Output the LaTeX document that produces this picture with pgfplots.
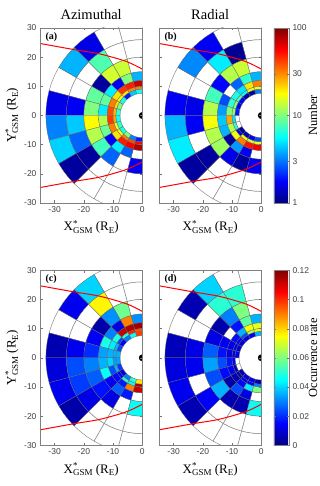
\documentclass[border=0pt]{standalone}
\usepackage{fontspec}
\setmainfont{Liberation Serif}
\newfontfamily\tickfont{Liberation Sans}
\usepackage{pgfplots}
\usepackage{pgfplotstable}
\usepgfplotslibrary{patchplots}
\pgfplotsset{compat=1.18}

% one row per ring (outer to inner), columns are 15 degree sectors, top to bottom
\pgfplotstableread{
rin rout s1 s2 s3 s4 s5 s6 s7 s8 s9 s10 s11 s12
26 33 nan nan 1.6 4 nan 1.6 3.2 4.6 1.15 nan nan nan
20 26 nan nan 8 nan nan 1.7 4.4 2.8 1.15 nan nan nan
15 20 nan 14 14.5 1.15 8.7 10 18 12.6 7.6 2.8 nan 1.7
12 15 4 10 1.7 5.2 8.7 5.2 12.6 9 1.7 5.2 2.8 nan
10 12 72 50 44 20 32 40 44 32 20 50 58 80
9 10 32 30 20 18 21 25 27 16 18 32 40 55
7.6 9 5.8 4.4 2 6.3 10 7 5.8 7 6.3 10 3.2 2
}\tabA
\pgfplotstableread{
rin rout s1 s2 s3 s4 s5 s6 s7 s8 s9 s10 s11 s12
26 33 nan nan 1.7 3.3 nan 1.7 4 5.2 1.15 nan nan nan
20 26 nan 1.1 5.2 nan nan 1.6 1.7 nan 1.15 nan nan nan
15 20 nan 14 12.6 1.8 7.6 12.6 17 12.6 11.5 1.6 1.15 1.7
12 15 4 7 2.8 nan 2.5 3.6 4.4 4 1.15 3.6 1.7 nan
10 12 32 20 5 6.3 7 10 27 12.6 17 32 52 58
9 10 17 16 5.8 8 10 11 5 7 1.6 17 14 16
7.6 9 3.2 1.15 1.15 1.7 1.7 2 nan nan 1.15 1.3 1.6 2.5
}\tabB
\pgfplotstableread{
rin rout s1 s2 s3 s4 s5 s6 s7 s8 s9 s10 s11 s12
26 33 nan nan .040 .013 nan .006 .011 .013 .005 nan nan nan
20 26 nan nan .076 nan nan .013 .024 .022 .012 nan nan nan
15 20 nan .058 .032 .005 .014 .020 .030 .026 .017 .012 nan .046
12 15 .032 .090 .012 .030 .048 .034 .036 .046 .014 .026 .018 nan
10 12 .116 .114 .112 .048 .043 .036 .040 .024 .016 .018 .090 .112
9 10 .096 .102 .050 .024 .036 .036 .034 .036 .014 .050 .046 .114
7.6 9 .098 .046 .030 .014 .024 .036 .034 .022 .012 .030 .050 .078
}\tabC
\pgfplotstableread{
rin rout s1 s2 s3 s4 s5 s6 s7 s8 s9 s10 s11 s12
26 33 nan nan .040 .006 nan .007 .011 .013 .006 nan nan nan
20 26 nan .050 .050 nan nan .012 .013 nan .014 nan nan nan
15 20 nan .060 .030 .005 .012 .026 .034 .024 .036 .006 .006 .046
12 15 .036 .056 .017 nan .014 .017 .024 .016 .005 .024 .012 nan
10 12 .072 .074 .036 .016 .012 .012 .017 .014 .006 .016 .043 .060
9 10 .072 .066 .024 .014 .014 .012 .014 .007 .006 .012 .014 .030
7.6 9 .036 .014 .012 .010 .010 .012 nan nan .006 .012 .012 .006
}\tabD

% turns a table into polygon cells: \cellsdata has the filled ones, \gridcells the empty ones
\def\nanstr{nan}
\newcommand{\buildcells}[2]{%
  \gdef\cellsdata{}\gdef\gridcells{}%
  \foreach \ri in {0,...,6}{%
    \pgfplotstablegetelem{\ri}{rin}\of#1\let\rin\pgfplotsretval
    \pgfplotstablegetelem{\ri}{rout}\of#1\let\rout\pgfplotsretval
    \foreach \si in {1,...,12}{%
      \pgfplotstablegetelem{\ri}{s\si}\of#1\let\val\pgfplotsretval
      \pgfmathsetmacro\ta{75+15*\si}%
      \pgfmathsetmacro\tb{\ta+5}%
      \pgfmathsetmacro\tc{\ta+10}%
      \pgfmathsetmacro\td{\ta+15}%
      \ifx\val\nanstr
        \def\mv{0}%
      \else
        \pgfmathsetmacro\mv{#2(\val)}%
      \fi
      \edef\onecell{(\ta,\rout) [\mv] (\tb,\rout) [\mv] (\tc,\rout) [\mv] (\td,\rout) [\mv]
        (\td,\rin) [\mv] (\tc,\rin) [\mv] (\tb,\rin) [\mv] (\ta,\rin) [\mv] }%
      \ifx\val\nanstr
        \xdef\gridcells{\gridcells\onecell}%
      \else
        \xdef\cellsdata{\cellsdata\onecell}%
      \fi
    }%
  }%
}

\pgfplotsset{
  colormap={jetm}{rgb(0)=(0,0,.5) rgb(1)=(0,0,1) rgb(3)=(0,1,1) rgb(5)=(1,1,0) rgb(7)=(1,0,0) rgb(8)=(.5,0,0)},
  colormap={allwhite}{color(0)=(white) color(1)=(white)},
  panel/.style={
    scale only axis, width=102.3pt, height=175pt,
    anchor=south west,
    xmin=-35, xmax=0, ymin=-30, ymax=30,
    xtick={-30,-20,-10,0}, ytick={-30,-20,...,30},
    tick align=inside, major tick length=2.5pt,
    axis line style={black!50, line width=0.6pt},
    tick style={black!55, line width=0.4pt},
    colormap name=jetm,
    axis on top,
    clip marker paths=true,
    /pgf/number format/assume math mode=true,
    ticklabel style={font=\tickfont\fontsize{8.5}{10}\selectfont, text=black!75},
    xlabel={\xlab},
    xlabel style={font=\fontsize{13}{14}\selectfont, yshift=-1pt},
    title style={font=\fontsize{14.5}{15}\selectfont, yshift=-1.5pt},
  },
  leftpanel/.style={panel,
    ylabel={\ylab},
    ylabel style={font=\fontsize{13}{14}\selectfont, yshift=-1pt},
  },
  rightpanel/.style={panel, yticklabels={}},
  cellfill/.style={patch, patch type=polygon, vertex count=8, shader=faceted,
    faceted color=black!60, line width=0.3pt, data cs=polar, point meta=explicit},
  gridfill/.style={patch, patch type=polygon, vertex count=8, shader=faceted,
    colormap name=allwhite, faceted color=black!45, line width=0.5pt,
    data cs=polar, point meta=explicit},
  bound/.style={red, line width=1pt, smooth, no marks},
  earth/.style={only marks, mark=*, mark size=3.2pt, black},
  cbar/.style={
    colorbar,
    colorbar style={
      at={(1.124,1)}, anchor=north west,
      width=15pt,
      axis line style={black!50, line width=0.5pt},
      tick style={black!55},
      tick align=inside, major tick length=2pt,
      yticklabel pos=right,
      /pgf/number format/assume math mode=true,
      ticklabel style={font=\tickfont\fontsize{8.5}{10}\selectfont, text=black!75},
      ylabel style={font=\fontsize{12.5}{13}\selectfont},
      #1
    },
  },
}
\newcommand{\xlab}{X\rlap{\raisebox{.75ex}{\fontsize{9}{9}\selectfont *}}\raisebox{-.45ex}{\fontsize{9}{9}\selectfont GSM} (R\raisebox{-.45ex}{\fontsize{9}{9}\selectfont E})}
\newcommand{\ylab}{Y\rlap{\raisebox{.75ex}{\fontsize{9}{9}\selectfont *}}\raisebox{-.45ex}{\fontsize{9}{9}\selectfont GSM} (R\raisebox{-.45ex}{\fontsize{9}{9}\selectfont E})}
\newcommand{\panellabel}[1]{\node[anchor=west, font=\bfseries\fontsize{10}{11}\selectfont] at (rel axis cs:0.02,0.95) {#1};}
\newcommand{\drawcells}{%
  \edef\tmp{\noexpand\addplot[gridfill] coordinates {\gridcells};}\tmp
  \edef\tmp{\noexpand\addplot[cellfill] coordinates {\cellsdata};}\tmp
}
\newcommand{\drawbounds}{%
  \addplot[bound] coordinates {(-35,24.7) (-23.4,22.6) (-14.5,21.1) (-5.4,18.5) (0,15.9)};
  \addplot[bound] coordinates {(-35,-24.7) (-23.4,-22.6) (-14.5,-21.1) (-5.4,-18.5) (0,-15.9)};
  \addplot[earth] coordinates {(0,0)};
}

\begin{document}
\begin{tikzpicture}[x=1pt,y=1pt]
\path[use as bounding box] (0,0) rectangle (320,486);

\buildcells{\tabA}{log10}
\begin{axis}[leftpanel, at={(40pt,283pt)}, title={Azimuthal},
    point meta min=0, point meta max=2]
  \drawcells
  \drawbounds
  \panellabel{(a)}
\end{axis}

\buildcells{\tabB}{log10}
\begin{axis}[rightpanel, at={(159pt,283pt)}, title={Radial},
    point meta min=0, point meta max=2,
    cbar={ytick={0,0.477,1,1.477,2}, yticklabels={1,3,10,30,100}, ylabel={Number}, ylabel shift=-5pt}]
  \drawcells
  \drawbounds
  \panellabel{(b)}
\end{axis}

\buildcells{\tabC}{}
\begin{axis}[leftpanel, at={(40pt,40.7pt)},
    point meta min=0, point meta max=0.12]
  \drawcells
  \drawbounds
  \panellabel{(c)}
\end{axis}

\buildcells{\tabD}{}
\begin{axis}[rightpanel, at={(159pt,40.7pt)},
    point meta min=0, point meta max=0.12,
    cbar={ytick={0,0.02,0.04,0.06,0.08,0.1,0.12},
      yticklabels={0,0.02,0.04,0.06,0.08,0.1,0.12}, ylabel={Occurrence rate}, ylabel shift=-7pt}]
  \drawcells
  \drawbounds
  \panellabel{(d)}
\end{axis}
\end{tikzpicture}
\end{document}
